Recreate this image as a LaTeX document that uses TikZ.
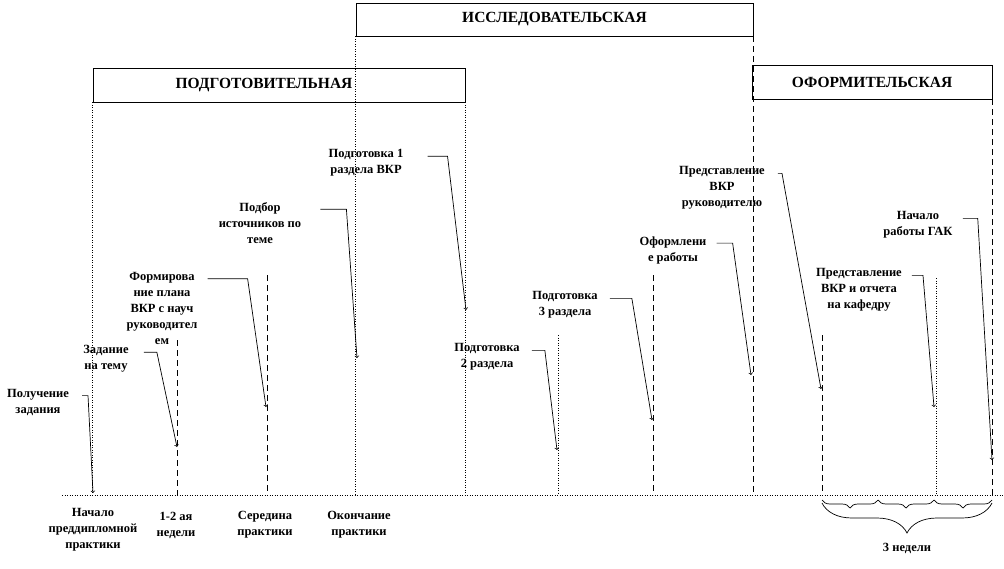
\documentclass[tikz,border=0pt]{standalone}
\usepackage{fontspec}
\setmainfont{Liberation Serif}
\usetikzlibrary{decorations.pathreplacing}

\tikzset{
  phase/.style={draw, line width=.8pt, inner sep=0pt, minimum height=34pt, font=\fontsize{15.5}{18}\selectfont\bfseries},
  lbl/.style={align=center, inner sep=0pt, font=\fontsize{12.5}{16}\selectfont\bfseries},
  leader/.style={->, line width=.7pt},
  dline/.style={line width=.8pt, dash pattern=on 6pt off 4pt},
  sline/.style={line width=.8pt, dash pattern=on 1pt off 1.5pt},
}

\begin{document}
\begin{tikzpicture}[x=1pt,y=-1pt]
\useasboundingbox (0,0) rectangle (1004,568);

% stages
\node[phase, minimum width=397pt, minimum height=33pt] (isl) at (554.5,19.5) {ИССЛЕДОВАТЕЛЬСКАЯ};
\node[phase, minimum width=372pt] (pod) at (279,85) {ПОДГОТОВИТЕЛЬНАЯ\hspace*{30pt}};
\node[phase, minimum width=240pt] (ofo) at (872,82) {ОФОРМИТЕЛЬСКАЯ};

% time axis
\coordinate (axl) at (62,495);
\coordinate (axr) at (1004,495);
\draw[sline] (axl) -- (axr);

\draw[sline] (pod.south west) -- (pod.south west |- axl);
\draw[sline] (pod.south east) -- (pod.south east |- axl);
\draw[sline] (isl.south west) -- (isl.south west |- axl);
\draw[dline] (isl.south east) -- (isl.south east |- axl);
\draw[dline] (ofo.south east) -- (ofo.south east |- axl);

\foreach \n/\x/\y/\s in {w1/177/340/dline, mid/267/275/dline, q2/558/335/sline, q3/653/275/dline, g1/822/335/dline, g2/936/278/sline} {
  \coordinate (\n) at (\x,\y);
  \draw[\s] (\n) -- (\n |- axl);
}

% events
\node[lbl] (zad) at (38,402) {Получение\\задания};
\node[lbl] (tema) at (106,359) {Задание\\на тему};
\node[lbl] (plan) at (162,308) {Формирова\\ние плана\\ВКР с науч\\руководител\\ем};
\node[lbl] (podb) at (260,223) {Подбор\\источников по\\теме};
\node[lbl] (r1) at (366,163) {Подготовка 1\\раздела ВКР};
\node[lbl] (r2) at (487,357) {Подготовка\\2 раздела};
\node[lbl] (r3) at (565,305) {Подготовка\\3 раздела};
\node[lbl] (oform) at (673,250) {Оформлени\\е работы};
\node[lbl] (ruk) at (722,188) {Представление\\ВКР\\руководителю};
\node[lbl] (kaf) at (859,290) {Представление\\ВКР и отчета\\на кафедру};
\node[lbl] (gak) at (918,225) {Начало\\работы ГАК};

\coordinate (t1) at (93,493);
\coordinate (t2) at (177,447);
\coordinate (t3) at (266,407);
\coordinate (t4) at (357,358);
\coordinate (t5) at (466,310);
\coordinate (t6) at (557,450);
\coordinate (t7) at (652,420);
\coordinate (t8) at (751,375);
\coordinate (t9) at (821,389);
\coordinate (t10) at (934,407);
\coordinate (t11) at (992,460);

\foreach \a/\g/\c/\t in {zad/13/6/t1, tema/15/13/t2, plan/10/40/t3, podb/19/26/t4, r1/24/20/t5, r2/12/13/t6, r3/12/22/t7, oform/10/16/t8, ruk/13/4/t9, kaf/10/11/t10, gak/10/15/t11}
  \draw[leader] ([xshift=\g, yshift=-7]\a.north east) -- ++(\c,0) -- (\t);

% axis labels
\node[lbl] (nach) at (93,530) {Начало\\преддипломной\\практики};
\node[lbl] (ned) at (176,525) {1-2 ая\\недели};
\node[lbl] (ser) at (265,525) {Середина\\практики};
\node[lbl] (okon) at (359,525) {Окончание\\практики};

% weeks
\coordinate (br0) at (822,500);
\coordinate (br1) at (878,500);
\coordinate (br2) at (934,500);
\coordinate (br3) at (992,500);
\foreach \p/\q in {br0/br1, br1/br2, br2/br3}
  \draw[line width=.7pt, decorate, decoration={brace, mirror, amplitude=8pt}] (\p) -- (\q);
\draw[line width=.7pt, decorate, decoration={brace, mirror, amplitude=30pt}] ([yshift=-3]br0) -- ([yshift=-3]br3);
\node[lbl] (tri) at (907,548) {3 недели};
\end{tikzpicture}
\end{document}
